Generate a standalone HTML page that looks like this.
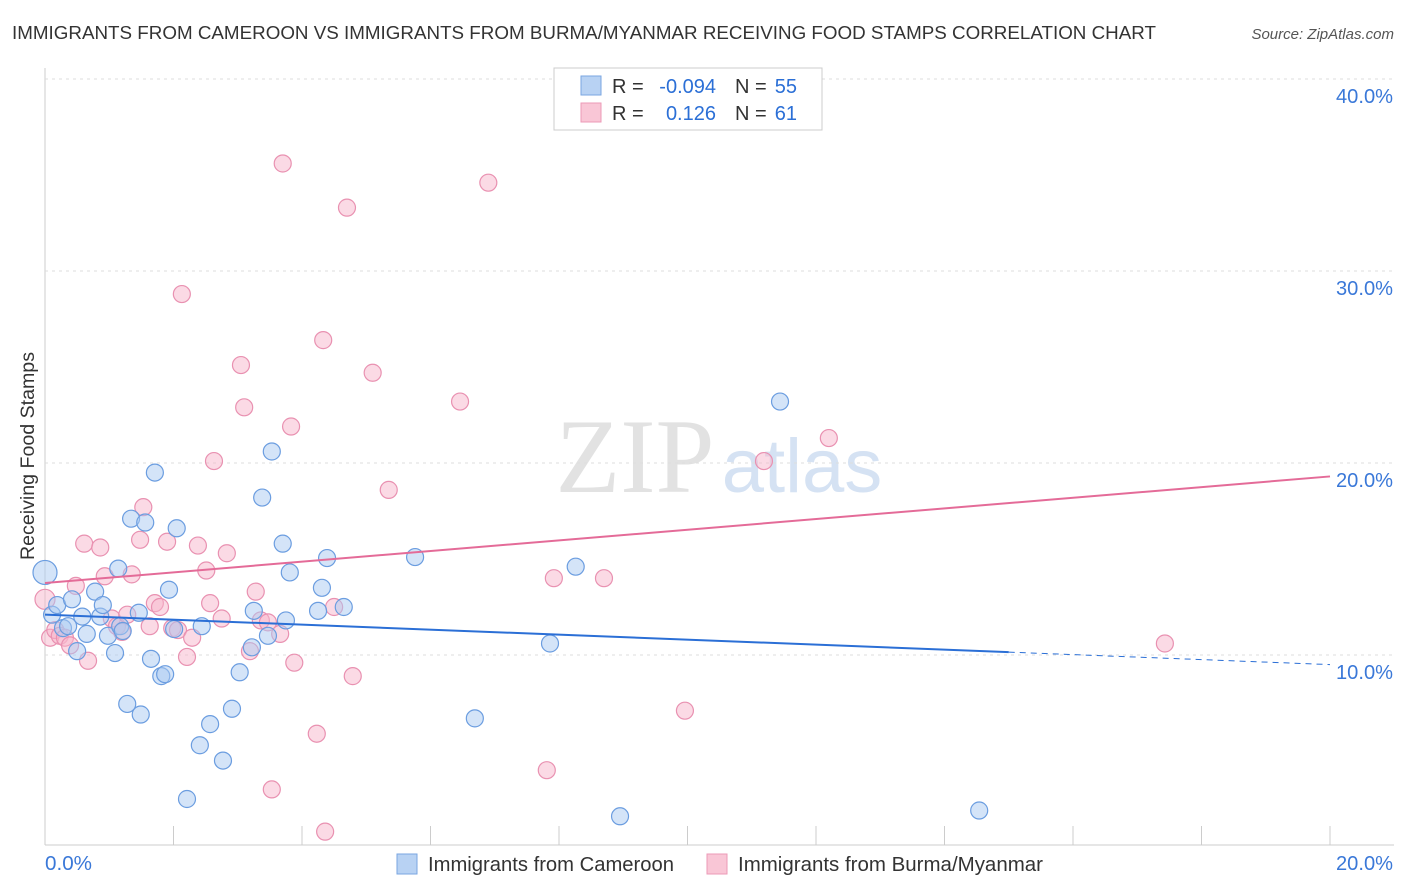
<!DOCTYPE html>
<html><head><meta charset="utf-8"><style>
body{margin:0;background:#fff;font-family:"Liberation Sans",sans-serif;}
svg{display:block}
</style></head><body>
<svg id="chart" width="1406" height="892">
<text x="12" y="39" font-size="18.5" fill="#333" textLength="1144" lengthAdjust="spacingAndGlyphs">IMMIGRANTS FROM CAMEROON VS IMMIGRANTS FROM BURMA/MYANMAR RECEIVING FOOD STAMPS CORRELATION CHART</text>
<text x="1394" y="39" font-size="15" fill="#555" font-style="italic" text-anchor="end">Source: ZipAtlas.com</text>
<text x="635" y="492" font-size="106" fill="#e2e2e2" font-family="Liberation Serif" text-anchor="middle">ZIP</text>
<text x="802" y="492" font-size="76" fill="#d5e2f3" text-anchor="middle">atlas</text>
<text transform="translate(34,456) rotate(-90)" font-size="19" fill="#333" text-anchor="middle" textLength="208" lengthAdjust="spacingAndGlyphs">Receiving Food Stamps</text>
<g id="grid"></g><g id="marks"></g>
<g>
<rect x="554" y="68" width="268" height="62" fill="#fff" stroke="#ccc"/>
<rect x="581" y="76" width="20" height="19" fill="#b8d2f3" stroke="#7aa6e0"/>
<rect x="581" y="103" width="20" height="19" fill="#f9c6d6" stroke="#ec9ab7"/>
<text x="612" y="93" font-size="20" fill="#333">R =</text>
<text x="716" y="93" font-size="20" fill="#2b6fd6" text-anchor="end">-0.094</text>
<text x="735" y="93" font-size="20" fill="#333">N =</text>
<text x="797" y="93" font-size="20" fill="#2b6fd6" text-anchor="end">55</text>
<text x="612" y="120" font-size="20" fill="#333">R =</text>
<text x="716" y="120" font-size="20" fill="#2b6fd6" text-anchor="end">0.126</text>
<text x="735" y="120" font-size="20" fill="#333">N =</text>
<text x="797" y="120" font-size="20" fill="#2b6fd6" text-anchor="end">61</text>
</g>
<g>
<rect x="397" y="854" width="20" height="20" fill="#b8d2f3" stroke="#7aa6e0"/>
<text x="428" y="871" font-size="20" fill="#333" textLength="246" lengthAdjust="spacingAndGlyphs">Immigrants from Cameroon</text>
<rect x="707" y="854" width="20" height="20" fill="#f9c6d6" stroke="#ec9ab7"/>
<text x="738" y="871" font-size="20" fill="#333" textLength="305" lengthAdjust="spacingAndGlyphs">Immigrants from Burma/Myanmar</text>
</g>
</svg>
<script>
const blueX=[0,0.11,0.19,0.28,0.36,0.42,0.5,0.58,0.65,0.78,0.86,0.9,0.98,1.09,1.14,1.17,1.21,1.28,1.34,1.46,1.49,1.56,1.65,1.71,1.81,1.87,1.93,2.05,2.01,2.21,2.41,2.44,2.57,2.77,2.91,3.03,3.22,3.25,3.38,3.47,3.53,3.7,3.75,3.81,4.25,4.31,4.39,4.65,5.76,6.69,7.86,8.26,8.95,11.44,14.54];
const blueY=[14.3,12.1,12.6,11.4,11.5,12.9,10.2,12.0,11.1,13.3,12.0,12.6,11.0,10.1,14.5,11.5,11.25,7.45,17.1,12.2,6.9,16.9,9.8,19.5,8.9,9.0,13.4,16.6,11.35,2.5,5.3,11.5,6.4,4.5,7.2,9.1,10.4,12.3,18.2,11.0,20.6,15.8,11.8,14.3,12.3,13.5,15.05,12.5,15.1,6.7,10.6,14.6,1.6,23.2,1.9];
const pinkX=[0,0.08,0.16,0.23,0.31,0.39,0.48,0.61,0.67,0.86,0.93,1.04,1.12,1.2,1.28,1.35,1.48,1.53,1.63,1.71,1.79,1.9,1.98,2.07,2.13,2.21,2.29,2.38,2.51,2.57,2.63,2.75,2.83,3.05,3.1,3.19,3.28,3.36,3.47,3.66,3.7,3.83,3.88,4.23,4.33,4.36,4.5,4.7,4.79,5.1,5.35,6.46,6.9,7.81,7.92,8.7,9.96,11.19,12.2,17.43,3.53];
const pinkY=[12.9,10.9,11.3,11.0,10.9,10.5,13.6,15.8,9.7,15.6,14.1,11.9,11.5,11.2,12.1,14.2,16.0,17.7,11.5,12.7,12.5,15.9,11.4,11.3,28.8,9.9,10.9,15.7,14.4,12.7,20.1,11.9,15.3,25.1,22.9,10.2,13.3,11.8,11.7,11.1,35.6,21.9,9.6,5.9,26.4,0.8,12.5,33.3,8.9,24.7,18.6,23.2,34.6,4.0,14.0,14.0,7.1,20.1,21.3,10.6,3.0];
const yTicks=[10,20,30,40];
const xTickLabels=["0.0%","20.0%"];
const blueTrend=[12.1,9.5];
const pinkTrend=[13.75,19.3];
const NS="http://www.w3.org/2000/svg";
const sx=v=>45+v*64.25, sy=v=>847-v*19.2;
const grid=document.getElementById('grid'), marks=document.getElementById('marks');
function mk(tag,attrs,parent){const e=document.createElementNS(NS,tag);for(const k in attrs)e.setAttribute(k,attrs[k]);parent.appendChild(e);return e;}
let ax=mk('line',{x1:45,y1:68,x2:45,y2:845,stroke:'#ccc'},grid);


let bx=mk('line',{x1:45,y1:845,x2:1394,y2:845,stroke:'#ccc'},grid);


yTicks.forEach(t=>{
 let g=mk('line',{x1:45,x2:1394,y1:sy(t),y2:sy(t),stroke:'#ddd','stroke-dasharray':'3,4'},grid);
 
 
 let l=mk('text',{x:1393,y:sy(t)+24,'font-size':20,fill:'#3a78d8','text-anchor':'end',textLength:57,lengthAdjust:'spacingAndGlyphs'},grid);
 l.textContent=t.toFixed(1)+'%';
 
 
});
for(let i=0;i<=10;i++){
 let t=mk('line',{x1:sx(i*2),x2:sx(i*2),y1:826,y2:845,stroke:'#ccc'},grid);
 
 
}
let xl0=mk('text',{x:45,y:870,'font-size':20,fill:'#3a78d8',textLength:47,lengthAdjust:'spacingAndGlyphs'},grid);xl0.textContent=xTickLabels[0];


let xl1=mk('text',{x:1393,y:870,'font-size':20,fill:'#3a78d8','text-anchor':'end',textLength:57,lengthAdjust:'spacingAndGlyphs'},grid);xl1.textContent=xTickLabels[1];


function pts(X,Y,fill,stroke,name){X.forEach((x,i)=>{
 let c=mk('circle',{cx:sx(x),cy:sy(Y[i]),r:i===0?(name==='blue'?12:10):8.5,fill:fill,'fill-opacity':0.5,stroke:stroke,'stroke-width':1.2},marks);
 
 
});}
pts(pinkX,pinkY,'#f7b6cb','#e991b1','pink');
pts(blueX,blueY,'#a9c9f1','#6b9de0','blue');
const bAt=x=>blueTrend[0]+(blueTrend[1]-blueTrend[0])*x/20;
let bl=mk('line',{x1:sx(0),y1:sy(bAt(0)),x2:sx(15),y2:sy(bAt(15)),stroke:'#2b6fd6','stroke-width':2},marks);


let bd=mk('line',{x1:sx(15),y1:sy(bAt(15)),x2:sx(20),y2:sy(bAt(20)),stroke:'#2b6fd6','stroke-width':1,'stroke-dasharray':'6,5'},marks);


let pl=mk('line',{x1:sx(0),y1:sy(pinkTrend[0]),x2:sx(20),y2:sy(pinkTrend[1]),stroke:'#e46b98','stroke-width':2},marks);


</script>
</body></html>
